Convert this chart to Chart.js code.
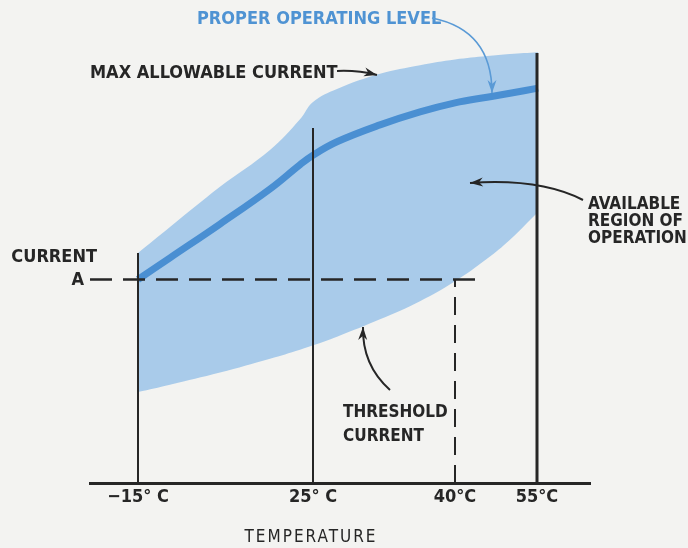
<!DOCTYPE html>
<html>
<head>
<meta charset="utf-8">
<script src="https://cdn.jsdelivr.net/npm/chart.js@4/dist/chart.umd.min.js"></script>
<style>
  html, body { margin: 0; padding: 0; background: #f3f3f1; }
  #wrap { width: 688px; height: 548px; position: relative; }
</style>
</head>
<body>
<div id="wrap"><canvas id="chart" width="688" height="548"></canvas></div>
<script>
// schematic diagram: temperatures are placed at hand-read axis positions (axis is not to scale)
const tempLabels = ['\u221215\u00b0 C', '25\u00b0 C', '40\u00b0C', '55\u00b0C'];
const tempPos = [0.96, 4.46, 7.3, 8.94];

// band samples along the axis
const bandX = [0.96, 1.6, 2.6, 3.6, 4.2, 4.46, 4.94, 5.8, 6.6, 7.3, 7.94, 8.4, 8.96];
const maxCurrent = [5.31, 5.91, 6.84, 7.69, 8.4, 8.8, 9.1, 9.45, 9.65, 9.78, 9.86, 9.91, 9.95];
const properLevel = [4.7, 5.2, 5.98, 6.79, 7.35, 7.57, 7.88, 8.27, 8.57, 8.78, 8.91, 9.0, 9.12];
const thresholdCurrent = [2.1, 2.27, 2.55, 2.87, 3.08, 3.18, 3.38, 3.78, 4.2, 4.66, 5.18, 5.62, 6.26];

const currentA = 4.7;
const currentAEnd = 7.74;
const tempLineTops = [5.31, 8.2, 4.7, 9.93];

const INK = '#262626';
const BLUE_TXT = '#4f93d3';
const FONT = '"DejaVu Sans Condensed", "DejaVu Sans", sans-serif';

const pts = (ys) => bandX.map((x, i) => ({ x, y: ys[i] }));

function vLine(i, dashed) {
  return {
    data: [{ x: tempPos[i], y: 0 }, { x: tempPos[i], y: tempLineTops[i] }],
    borderColor: INK,
    borderWidth: i === 3 ? 3 : 2,
    borderDash: dashed ? [18, 10] : [],
    pointRadius: 0,
    tension: 0,
    fill: false,
    order: 1
  };
}

function arrowHead(ctx, fromX, fromY, toX, toY, len, wid) {
  const a = Math.atan2(toY - fromY, toX - fromX);
  ctx.beginPath();
  ctx.moveTo(toX, toY);
  ctx.lineTo(toX - len * Math.cos(a) + wid * Math.sin(a), toY - len * Math.sin(a) - wid * Math.cos(a));
  ctx.lineTo(toX - len * Math.cos(a) * 0.7, toY - len * Math.sin(a) * 0.7);
  ctx.lineTo(toX - len * Math.cos(a) - wid * Math.sin(a), toY - len * Math.sin(a) + wid * Math.cos(a));
  ctx.closePath();
  ctx.fill();
}

function curvedArrow(ctx, x0, y0, cx, cy, x1, y1, color, w) {
  ctx.save();
  ctx.strokeStyle = color;
  ctx.fillStyle = color;
  ctx.lineWidth = w;
  ctx.beginPath();
  ctx.moveTo(x0, y0);
  ctx.quadraticCurveTo(cx, cy, x1, y1);
  ctx.stroke();
  arrowHead(ctx, cx, cy, x1, y1, 13, 4.5);
  ctx.restore();
}

const bgPlugin = {
  id: 'bg',
  beforeDraw(chart) {
    const ctx = chart.ctx;
    ctx.save();
    ctx.fillStyle = '#f3f3f1';
    ctx.fillRect(0, 0, chart.width, chart.height);
    ctx.restore();
  }
};

const notesPlugin = {
  id: 'notes',
  afterDraw(chart) {
    const ctx = chart.ctx;
    const ys = chart.scales.y;
    ctx.save();
    ctx.textBaseline = 'middle';
    ctx.font = 'bold 18px ' + FONT;

    // title of proper level
    ctx.fillStyle = BLUE_TXT;
    ctx.textAlign = 'left';
    ctx.fillText('PROPER OPERATING LEVEL', 197, 19);
    curvedArrow(ctx, 432, 18, 492, 30, 492, 93, '#5a9ad6', 1.6);

    ctx.fillStyle = INK;
    ctx.fillText('MAX ALLOWABLE CURRENT', 90, 73);
    curvedArrow(ctx, 337, 71, 357, 70, 377, 75, INK, 2);

    // current A label
    ctx.textAlign = 'right';
    ctx.fillText('CURRENT', 97, 257);
    ctx.fillText('A', 84, ys.getPixelForValue(currentA) + 1);

    // available region
    ctx.textAlign = 'left';
    ctx.font = 'bold 17px ' + FONT;
    ctx.fillText('AVAILABLE', 588, 205);
    ctx.fillText('REGION OF', 588, 222);
    ctx.fillText('OPERATION', 588, 239);
    curvedArrow(ctx, 583, 200, 540, 178, 470, 183, INK, 2);

    // threshold
    ctx.fillText('THRESHOLD', 343, 413);
    ctx.fillText('CURRENT', 343, 437);
    curvedArrow(ctx, 390, 390, 362, 365, 363, 327, INK, 2);

    // axis title
    ctx.font = '17px ' + FONT;
    ctx.textAlign = 'center';
    ctx.letterSpacing = '2px';
    ctx.fillText('TEMPERATURE', 311, 538);
    ctx.restore();
  }
};

new Chart(document.getElementById('chart'), {
  type: 'line',
  data: {
    datasets: [
      {
        data: pts(maxCurrent),
        borderWidth: 0,
        pointRadius: 0,
        tension: 0.4,
        backgroundColor: '#a9cbea',
        fill: '+1',
        order: 10
      },
      {
        data: pts(thresholdCurrent),
        borderWidth: 0,
        pointRadius: 0,
        tension: 0.4,
        fill: false,
        order: 11
      },
      {
        data: pts(properLevel),
        borderColor: '#4a8fd2',
        borderWidth: 7,
        pointRadius: 0,
        tension: 0.4,
        fill: false,
        order: 5
      },
      vLine(0, false),
      vLine(1, false),
      vLine(2, true),
      vLine(3, false),
      {
        data: [{ x: 0, y: currentA }, { x: currentAEnd, y: currentA }],
        borderColor: INK,
        borderWidth: 2.5,
        borderDash: [22, 11],
        pointRadius: 0,
        tension: 0,
        fill: false,
        order: 1
      }
    ]
  },
  options: {
    responsive: false,
    animation: false,
    layout: { padding: { left: 90, right: 98, top: 50, bottom: 0 } },
    plugins: { legend: { display: false }, tooltip: { enabled: false } },
    scales: {
      x: {
        type: 'linear',
        min: 0,
        max: 10,
        grid: { display: false, drawTicks: false },
        border: { display: true, color: INK, width: 3 },
        afterBuildTicks: (scale) => { scale.ticks = tempPos.map(v => ({ value: v })); },
        afterFit: (scale) => { scale.height = 65; },
        ticks: {
          padding: 4,
          color: INK,
          font: { family: FONT, size: 18, weight: 'bold' },
          autoSkip: false,
          maxRotation: 0,
          callback: (v) => {
            const i = tempPos.indexOf(v);
            return i >= 0 ? tempLabels[i] : '';
          }
        }
      },
      y: { display: false, min: 0, max: 10 }
    }
  },
  plugins: [bgPlugin, notesPlugin]
});
</script>
</body>
</html>
